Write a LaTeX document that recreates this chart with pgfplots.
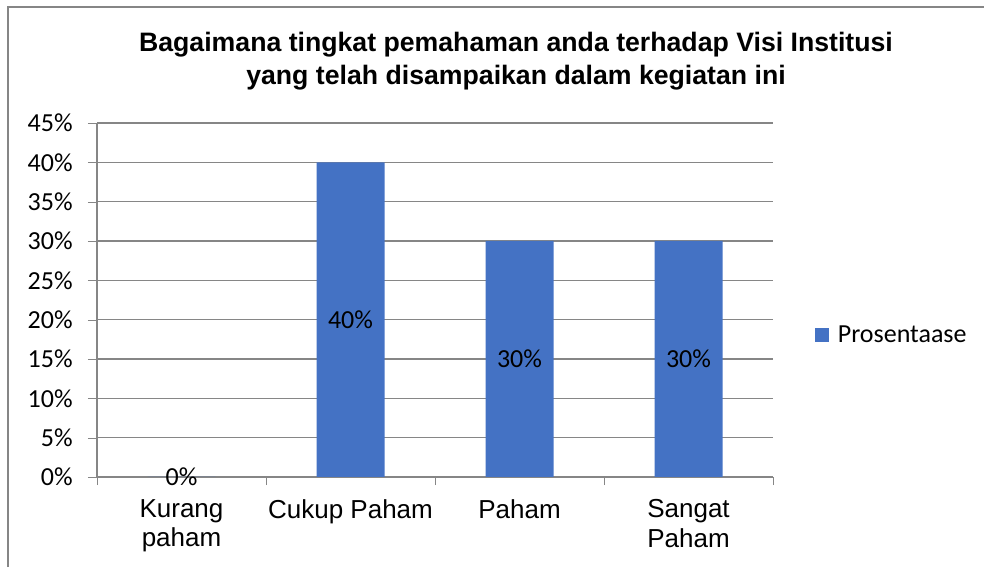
\documentclass[border=0pt]{standalone}
\usepackage{fontspec}
\setmainfont{Liberation Sans}
\newfontfamily\carlito{Carlito}
\usepackage{pgfplots}
\pgfplotsset{compat=1.18}
\definecolor{barblue}{HTML}{4472C4}
\definecolor{axgray}{HTML}{868686}
\begin{document}
\begin{tikzpicture}
\useasboundingbox (0,0) rectangle (738pt,425.25pt);
% chart frame (only left and top edge are visible)
\draw[axgray, line width=1.2pt] (6pt,0pt) -- (6pt,420pt) -- (738pt,420pt);
% title
\node[anchor=base, font=\fontsize{20}{24}\selectfont\bfseries] at (387pt,386.5pt)
  {Bagaimana tingkat pemahaman anda terhadap Visi Institusi};
\node[anchor=base, font=\fontsize{20}{24}\selectfont\bfseries] at (387pt,362pt)
  {yang telah disampaikan dalam kegiatan ini};
\begin{axis}[
    at={(72.75pt,67.5pt)}, anchor=south west,
    scale only axis,
    width=507pt, height=265.5pt,
    ybar, bar width=51pt,
    xmin=-0.5, xmax=3.5,
    ymin=0, ymax=45,
    xtick={0,1,2,3},
    xticklabels={{Kurang\\paham},{Cukup Paham},{Paham},{Sangat\\Paham}},
    xticklabel style={align=center, yshift=-6.75pt, font=\fontsize{19.5}{22}\selectfont},
    major x tick style={draw=none},
    minor xtick={-0.5,0.5,1.5,2.5,3.5},
    minor x tick style={axgray},
    minor tick length=6pt,
    ytick={0,5,...,45},
    yticklabel={\pgfmathprintnumber[assume math mode=true]{\tick}\%},
    yticklabel style={xshift=-8pt, font=\carlito\fontsize{19.5}{22}\selectfont},
    major y tick style={axgray},
    major tick length=6.75pt,
    tick align=outside,
    axis x line*=bottom, axis y line*=left,
    axis line style={axgray, line width=0.8pt},
    ymajorgrids, grid style={axgray, line width=0.8pt},
    nodes near coords={\pgfmathprintnumber[assume math mode=true]{\pgfplotspointmeta}\%},
    visualization depends on=y \as \rawy,
    every node near coord/.append style={anchor=center,
        font=\carlito\fontsize{19.5}{22}\selectfont, text=black,
        shift={(axis direction cs:0,-\rawy/2)}},
    legend style={at={(1.062,0.401)}, anchor=west, draw=none, fill=none,
        inner sep=0pt, font=\carlito\fontsize{19.5}{22}\selectfont,
        nodes={inner sep=0pt}},
    legend image code/.code={\fill[barblue] (0pt,-5.25pt) rectangle (10.5pt,5.25pt);},
]
\addplot[fill=barblue, draw=none] coordinates {(0,0) (1,40) (2,30) (3,30)};
\addlegendentry{\hspace{6.5pt}Prosentaase}
\end{axis}
\end{tikzpicture}
\end{document}
